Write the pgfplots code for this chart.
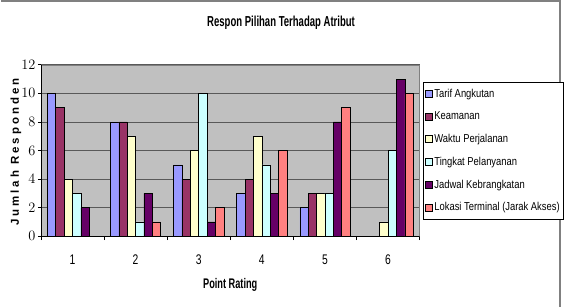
\documentclass[border=0pt]{standalone}
\usepackage{fontspec}
\setmainfont{Liberation Sans}
\newfontfamily\legfont[FakeStretch=0.82]{Liberation Sans}
\newfontfamily\tickfont[FakeStretch=0.74]{Liberation Sans}
\newfontfamily\titfont[FakeStretch=0.66]{Liberation Sans}
\newfontfamily\ylabfont[LetterSpace=26]{Liberation Sans}
\usepackage{pgfplots}
\pgfplotsset{compat=1.18}

\definecolor{cTarif}{HTML}{9999FF}
\definecolor{cKeam}{HTML}{993366}
\definecolor{cWaktu}{HTML}{FFFFCC}
\definecolor{cTingkat}{HTML}{CCFFFF}
\definecolor{cJadwal}{HTML}{660066}
\definecolor{cLokasi}{HTML}{FF8080}
\definecolor{plotbg}{HTML}{C0C0C0}

\begin{document}
\begin{tikzpicture}[x=1pt,y=1pt]
% page extent and outer chart border
\path (0,0) rectangle (564,308);
\draw[draw={rgb,255:red,128;green,128;blue,128},line width=2pt]
  (0,307) -- (561,307) -- (561,0);
\node[font=\titfont\bfseries\fontsize{14.5}{16}\selectfont] at (281,285) {Respon Pilihan Terhadap Atribut};

\begin{axis}[
  at={(40pt,71pt)}, anchor=south west,
  scale only axis, width=380pt, height=172pt,
  ybar=0pt, bar width=8.4pt,
  xmin=-0.5, xmax=5.5, ymin=0, ymax=12,
  axis background/.style={fill=plotbg},
  axis line style={draw=gray},
  xtick={0,...,5}, xticklabels={1,2,3,4,5,6},
  major x tick style={draw=none},
  minor xtick={-0.5,0.5,...,5.5},
  minor tick length=4pt,
  ytick={0,2,...,12},
  major tick length=3pt,
  tick align=outside, tick pos=left,
  tick style={black, line width=0.6pt},
  ymajorgrids, grid style={draw=gray!70!black, line width=0.6pt},
  xticklabel style={font=\tickfont\fontsize{14}{16}\selectfont, yshift=-12pt},
  yticklabel style={font=\tickfont\fontsize{14}{16}\selectfont, xshift=1pt},
  xlabel={Point Rating},
  xlabel style={font=\titfont\bfseries\fontsize{14}{16}\selectfont, at={(axis description cs:0.5,-0.285)}, anchor=center},
  ylabel={Jumlah Responden},
  ylabel style={font=\ylabfont\bfseries\fontsize{11.5}{13}\selectfont, at={(axis description cs:-0.066,0.49)}, anchor=center},
  every axis plot/.append style={draw=black, line width=0.5pt},
  legend cell align=left,
  legend image code/.code={\draw[#1,draw=black,line width=0.5pt] (0pt,-3.5pt) rectangle (7pt,3.5pt);},
  legend style={at={(rel axis cs:1.008,0.9)}, anchor=north west,
    draw=black, line width=0.6pt, fill=white,
    font=\legfont\fontsize{11.5}{13}\selectfont,
    row sep=9pt, inner xsep=2pt, inner ysep=5pt},
]
\addplot[fill=cTarif]   coordinates {(0,10) (1,8) (2,5) (3,3) (4,2) (5,0)};
\addplot[fill=cKeam]    coordinates {(0,9) (1,8) (2,4) (3,4) (4,3) (5,0)};
\addplot[fill=cWaktu]   coordinates {(0,4) (1,7) (2,6) (3,7) (4,3) (5,1)};
\addplot[fill=cTingkat] coordinates {(0,3) (1,1) (2,10) (3,5) (4,3) (5,6)};
\addplot[fill=cJadwal]  coordinates {(0,2) (1,3) (2,1) (3,3) (4,8) (5,11)};
\addplot[fill=cLokasi]  coordinates {(0,0) (1,1) (2,2) (3,6) (4,9) (5,10)};
\legend{Tarif Angkutan, Keamanan, Waktu Perjalanan, Tingkat Pelanyanan, Jadwal Kebrangkatan, Lokasi Terminal (Jarak Akses)}
% dark value axis and category axis over the gray frame
\draw[black, line width=0.6pt] (rel axis cs:0,0) -- (rel axis cs:0,1);
\draw[black, line width=0.6pt] (rel axis cs:0,0) -- (rel axis cs:1,0);
\end{axis}
\end{tikzpicture}
\end{document}
